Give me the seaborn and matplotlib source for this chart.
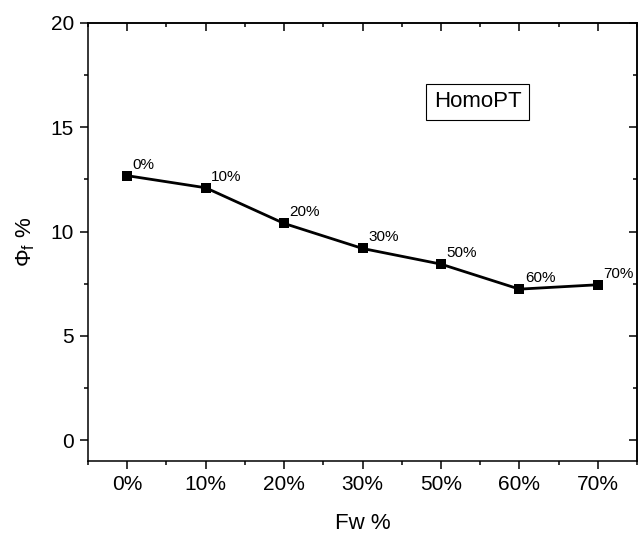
import matplotlib
matplotlib.use("Agg")
import matplotlib.pyplot as plt
import seaborn as sns
from matplotlib.ticker import MultipleLocator, FixedLocator

categories = ["0%", "10%", "20%", "30%", "50%", "60%", "70%"]
values = [12.68, 12.10, 10.39, 9.19, 8.44, 7.24, 7.45]
point_labels = ["0%", "10%", "20%", "30%", "50%", "60%", "70%"]

sns.set_theme(style="white")
plt.rcParams["font.family"] = ["Liberation Sans", "DejaVu Sans"]
plt.rcParams["mathtext.fontset"] = "custom"
plt.rcParams["mathtext.rm"] = "Liberation Sans"
plt.rcParams["mathtext.it"] = "Liberation Sans:italic"
plt.rcParams["mathtext.bf"] = "Liberation Sans:bold"
for k in ["text.color", "axes.labelcolor", "xtick.color", "ytick.color", "axes.edgecolor"]:
    plt.rcParams[k] = "black"

fig = plt.figure(figsize=(6.39, 5.35), dpi=100)
ax = fig.add_axes([88 / 639, 1 - 461 / 535, (637 - 88) / 639, (461 - 23) / 535])

sns.lineplot(x=list(range(len(categories))), y=values, ax=ax, color="black",
             marker="s", markersize=7.5, markeredgewidth=0, linewidth=2.0)

for i, (v, lab) in enumerate(zip(values, point_labels)):
    ax.annotate(lab, (i, v), xytext=(4, 3), textcoords="offset points",
                ha="left", va="bottom", fontsize=11, color="black")

ax.set_xlim(-0.5, 6.5)
ax.set_ylim(-1, 20)
ax.set_xticks(range(len(categories)))
ax.set_xticklabels(categories)
ax.xaxis.set_minor_locator(FixedLocator([i + 0.5 for i in range(-1, 7)]))
ax.yaxis.set_major_locator(MultipleLocator(5))
ax.yaxis.set_minor_locator(MultipleLocator(2.5))

for s in ax.spines.values():
    s.set_visible(True)
    s.set_color("black")
    s.set_linewidth(1.1)

ax.tick_params(axis="both", which="major", direction="out", length=6, width=1.1,
               labelsize=15, colors="black", bottom=True, left=True, pad=4)
ax.tick_params(axis="both", which="minor", direction="out", length=3, width=1.1,
               bottom=True, left=True, colors="black")

# mirrored inward ticks on top and right
top = ax.secondary_xaxis("top")
top.set_xticks(range(len(categories)))
top.xaxis.set_minor_locator(FixedLocator([i + 0.5 for i in range(-1, 7)]))
top.tick_params(which="major", direction="in", length=6, width=1.1, labeltop=False, colors="black")
top.tick_params(which="minor", direction="in", length=3, width=1.1, colors="black")
top.spines["top"].set_linewidth(1.1)
top.spines["top"].set_color("black")
right = ax.secondary_yaxis("right")
right.yaxis.set_major_locator(MultipleLocator(5))
right.yaxis.set_minor_locator(MultipleLocator(2.5))
right.tick_params(which="major", direction="in", length=6, width=1.1, labelright=False, colors="black")
right.tick_params(which="minor", direction="in", length=3, width=1.1, colors="black")
right.spines["right"].set_linewidth(1.1)
right.spines["right"].set_color("black")

ax.set_xlabel("Fw %", fontsize=16, labelpad=14)
ax.set_ylabel(r"$\Phi_{\rm f}$ %", fontsize=16, labelpad=10)

ax.text(0.71, 0.82, "HomoPT", transform=ax.transAxes, fontsize=16,
        ha="center", va="center",
        bbox=dict(boxstyle="square,pad=0.35", facecolor="white",
                  edgecolor="black", linewidth=0.8))

fig.savefig("out.png", dpi=100)
